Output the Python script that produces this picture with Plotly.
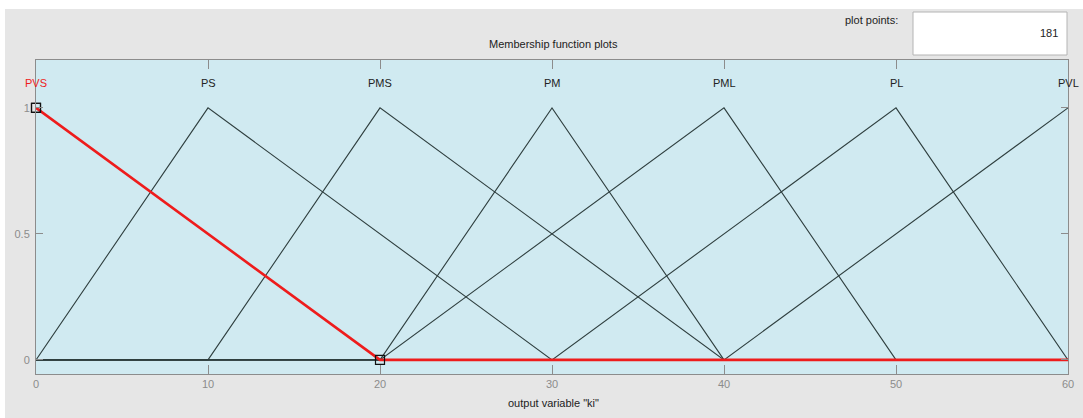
import plotly.graph_objects as go

# Membership functions (triangular: a, b, c)
mf_names = ["PVS", "PS", "PMS", "PM", "PML", "PL", "PVL"]
mf_a = [-20, 0, 10, 20, 20, 30, 40]
mf_b = [0, 10, 20, 30, 40, 50, 60]
mf_c = [20, 30, 40, 40, 50, 60, 80]
selected = "PVS"
x_min, x_max = 0, 60
x_ticks = [0, 10, 20, 30, 40, 50, 60]
y_ticks = [0, 0.5, 1]
plot_points = 181


def trimf(x, a, b, c):
    if x <= a or x >= c:
        return 1.0 if x == b else 0.0
    if x <= b:
        return (x - a) / (b - a) if b != a else 1.0
    return (c - x) / (c - b) if c != b else 1.0


def vertices(a, b, c):
    xs = sorted(set([x_min, x_max] + [v for v in (a, b, c) if x_min <= v <= x_max]))
    return xs, [trimf(v, a, b, c) for v in xs]


fig = go.Figure()
sel_idx = mf_names.index(selected)
order = [i for i in range(len(mf_names)) if i != sel_idx] + [sel_idx]
for i in order:
    xs, ys = vertices(mf_a[i], mf_b[i], mf_c[i])
    is_sel = i == sel_idx
    fig.add_trace(go.Scatter(
        x=xs, y=ys, mode="lines",
        line=dict(color="#ee1c1c" if is_sel else "#2f3f3f", width=2.6 if is_sel else 1.1),
        showlegend=False, hoverinfo="skip"))

# vertex handles of selected MF
sx = [max(min(v, x_max), x_min) for v in (mf_a[sel_idx], mf_b[sel_idx], mf_c[sel_idx])]
sy = [trimf(v, mf_a[sel_idx], mf_b[sel_idx], mf_c[sel_idx]) for v in sx]
fig.add_trace(go.Scatter(
    x=sx, y=sy, mode="markers",
    marker=dict(symbol="square-open", size=9, color="#111111", line=dict(width=1.2)),
    showlegend=False, hoverinfo="skip", cliponaxis=False))

font = "Liberation Sans, Arial"
for i, name in enumerate(mf_names):
    fig.add_annotation(
        x=mf_b[i], y=1.1, text=name, showarrow=False, xref="x", yref="y",
        yanchor="middle",
        font=dict(family=font, size=11,
                  color="#ee1c1c" if i == sel_idx else "#222222"))


def px(xpage):
    return (xpage - 36) / 1032


def py(ypage):
    return 1.0 + (60 - ypage) / 314


fig.update_layout(
    width=1083, height=418,
    margin=dict(l=36, r=15, t=60, b=44),
    paper_bgcolor="#e6e6e6",
    plot_bgcolor="#d0eaf1",
    font=dict(family=font, size=11, color="#222222"),
    xaxis=dict(range=[x_min, x_max], tickvals=x_ticks, ticks="inside", ticklen=9,
               tickcolor="#8c8c8c", showgrid=False, zeroline=False, automargin=False,
               showline=True, linecolor="#8c8c8c", linewidth=1, mirror="ticks",
               tickfont=dict(color="#8c8c8c", size=11, family=font)),
    yaxis=dict(range=[-0.056, 1.19], tickvals=y_ticks, ticktext=["0", "0.5", "1"],
               ticks="inside", ticklen=7, tickcolor="#8c8c8c", showgrid=False,
               zeroline=False, showline=True, linecolor="#8c8c8c", linewidth=1,
               mirror="ticks", ticklabelstandoff=3, automargin=False,
               tickfont=dict(color="#8c8c8c", size=11, family=font)),
    shapes=[
        dict(type="rect", xref="paper", yref="paper", x0=px(-5), x1=px(1090),
             y0=py(9), y1=py(-5), fillcolor="white", line=dict(width=0), layer="below"),
        dict(type="rect", xref="paper", yref="paper", x0=px(-5), x1=px(5),
             y0=py(425), y1=py(-5), fillcolor="white", line=dict(width=0), layer="below"),
        dict(type="rect", xref="paper", yref="paper", x0=px(913), x1=px(1067),
             y0=py(55), y1=py(12), fillcolor="white",
             line=dict(color="#b4b4b4", width=1)),
    ],
)

fig.add_annotation(xref="paper", yref="paper", x=px(553), y=py(44), yanchor="middle",
                   text="Membership function plots", showarrow=False,
                   font=dict(size=11, color="#222222", family=font))
fig.add_annotation(xref="paper", yref="paper", x=px(900), y=py(20), yanchor="middle",
                   xanchor="right", text="plot points:", showarrow=False,
                   font=dict(size=11, color="#222222", family=font))
fig.add_annotation(xref="paper", yref="paper", x=px(1060), y=py(33), yanchor="middle",
                   xanchor="right", text=str(plot_points), showarrow=False,
                   font=dict(size=11, color="#222222", family=font))
fig.add_annotation(xref="paper", yref="paper", x=px(553), y=py(403), yanchor="middle",
                   text='output variable "ki"', showarrow=False,
                   font=dict(size=11, color="#222222", family=font))

fig.write_html("out.html", config={"displayModeBar": False},
               post_script="document.body.style.margin='0';document.body.style.overflow='hidden';")
